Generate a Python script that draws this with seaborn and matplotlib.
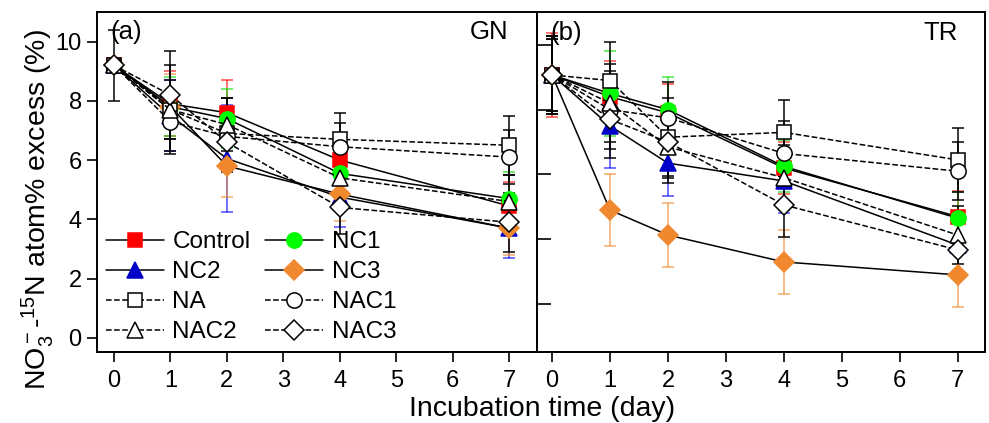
import matplotlib
matplotlib.use("Agg")
import matplotlib.pyplot as plt
import seaborn as sns
import numpy as np

sns.set_theme(style="ticks")
plt.rcParams['font.family'] = ['Liberation Sans', 'DejaVu Sans']
plt.rcParams['mathtext.fontset'] = 'custom'
plt.rcParams['mathtext.rm'] = 'Liberation Sans'
plt.rcParams['mathtext.it'] = 'Liberation Sans:italic'
for k in ['text.color', 'axes.labelcolor', 'xtick.color', 'ytick.color', 'axes.edgecolor']:
    plt.rcParams[k] = 'black'

days = [0, 1, 2, 4, 7]
series = ["Control", "NC1", "NC2", "NC3", "NA", "NAC1", "NAC2", "NAC3"]

# Panel (a) GN
gn_control = [9.2, 7.9, 7.6, 6.0, 4.45]
gn_nc1 = [9.2, 7.8, 7.4, 5.55, 4.7]
gn_nc2 = [9.2, 7.5, 6.05, 4.75, 3.7]
gn_nc3 = [9.2, 7.8, 5.8, 4.85, 3.7]
gn_na = [9.2, 7.7, 6.9, 6.7, 6.5]
gn_nac1 = [9.2, 7.3, 6.8, 6.45, 6.1]
gn_nac2 = [9.2, 7.7, 7.2, 5.4, 4.6]
gn_nac3 = [9.2, 8.2, 6.6, 4.4, 3.9]
gn_err_control = [0.15, 1.1, 1.1, 0.5, 0.8]
gn_err_nc1 = [0.15, 1.0, 1.0, 0.7, 0.9]
gn_err_nc2 = [0.15, 1.2, 1.8, 1.0, 1.0]
gn_err_nc3 = [0.15, 1.1, 1.05, 0.9, 0.9]
gn_err_na = [1.2, 1.5, 1.2, 0.9, 1.0]
gn_err_nac1 = [0.2, 1.0, 1.0, 0.8, 0.9]
gn_err_nac2 = [0.2, 1.0, 0.9, 0.9, 0.9]
gn_err_nac3 = [0.2, 1.5, 1.0, 0.9, 1.0]

# Panel (b) TR
tr_control = [9.07, 8.4, 7.9, 6.2, 4.7]
tr_nc1 = [9.07, 8.5, 8.0, 6.25, 4.65]
tr_nc2 = [9.07, 7.5, 6.35, 5.8, 3.82]
tr_nc3 = [9.07, 4.9, 4.13, 3.3, 2.9]
tr_na = [9.07, 8.9, 7.15, 7.3, 6.45]
tr_nac1 = [9.07, 8.0, 7.75, 6.65, 6.1]
tr_nac2 = [9.07, 8.2, 6.85, 5.9, 4.13]
tr_nac3 = [9.07, 7.7, 7.0, 5.06, 3.67]
tr_err_control = [1.3, 1.1, 0.9, 0.8, 0.8]
tr_err_nc1 = [1.2, 1.3, 1.0, 0.8, 0.8]
tr_err_nc2 = [1.2, 1.3, 1.0, 1.0, 0.9]
tr_err_nc3 = [1.2, 1.1, 1.0, 1.0, 1.0]
tr_err_na = [1.1, 1.2, 1.2, 1.0, 1.0]
tr_err_nac1 = [1.1, 1.2, 1.1, 1.0, 0.9]
tr_err_nac2 = [1.2, 1.2, 1.1, 1.0, 0.9]
tr_err_nac3 = [1.2, 1.2, 1.1, 1.0, 0.9]

gn_vals = [gn_control, gn_nc1, gn_nc2, gn_nc3, gn_na, gn_nac1, gn_nac2, gn_nac3]
gn_errs = [gn_err_control, gn_err_nc1, gn_err_nc2, gn_err_nc3, gn_err_na, gn_err_nac1, gn_err_nac2, gn_err_nac3]
tr_vals = [tr_control, tr_nc1, tr_nc2, tr_nc3, tr_na, tr_nac1, tr_nac2, tr_nac3]
tr_errs = [tr_err_control, tr_err_nc1, tr_err_nc2, tr_err_nc3, tr_err_na, tr_err_nac1, tr_err_nac2, tr_err_nac3]

styles = {
    "Control": dict(marker="s", mfc="#FF0000", mec="#FF0000", ls="-", ecol="#FF0000", ms=10),
    "NC1": dict(marker="o", mfc="#00FF00", mec="#00FF00", ls="-", ecol="#00DD00", ms=11),
    "NC2": dict(marker="^", mfc="#0000C8", mec="#0000C8", ls="-", ecol="#0000FF", ms=11),
    "NC3": dict(marker="D", mfc="#F0882E", mec="#F0882E", ls="-", ecol="#F0882E", ms=10),
    "NA": dict(marker="s", mfc="white", mec="black", ls="--", ecol="black", ms=10),
    "NAC1": dict(marker="o", mfc="white", mec="black", ls="--", ecol="black", ms=11),
    "NAC2": dict(marker="^", mfc="white", mec="black", ls="--", ecol="black", ms=11),
    "NAC3": dict(marker="D", mfc="white", mec="black", ls="--", ecol="black", ms=10),
}

W, H = 989, 423
fig = plt.figure(figsize=(W / 100, H / 100), dpi=100)
ax1 = fig.add_axes([97 / W, (H - 352) / H, 440 / W, 340 / H])
ax2 = fig.add_axes([537 / W, (H - 352) / H, 448 / W, 339.5 / H])

FS = 17

def draw(ax, vals, errs):
    for name, v, e in zip(series, vals, errs):
        st = styles[name]
        alpha = 0.65 if st["ecol"] != "black" else 0.9
        ax.errorbar(days, v, yerr=e, fmt="none", ecolor=st["ecol"], elinewidth=1.2,
                    capsize=4, capthick=1.2, alpha=alpha, zorder=2)
        sns.lineplot(x=days, y=v, ax=ax, color="black", linewidth=1.1,
                     linestyle=st["ls"], marker=st["marker"], markersize=st["ms"],
                     markerfacecolor=st["mfc"], markeredgecolor=st["mec"],
                     markeredgewidth=1.1, label=name, zorder=3,
                     dashes=(4, 3) if st["ls"] == "--" else None)

draw(ax1, gn_vals, gn_errs)
draw(ax2, tr_vals, tr_errs)

for ax in (ax1, ax2):
    ax.set_xticks(range(0, 8))
    ax.tick_params(axis="x", direction="out", length=7, width=1.2, labelsize=FS, pad=6)
    for s in ax.spines.values():
        s.set_linewidth(1.4)
        s.set_color("black")
        s.set_visible(True)
    ax.set_xlabel("")
    ax.set_ylabel("")

ax1.set_xlim(-0.3, 7.49)
ax1.set_ylim(-0.48, 11.0)
ax1.set_yticks([0, 2, 4, 6, 8, 10])
ax1.tick_params(axis="y", direction="out", length=7, width=1.2, labelsize=FS, pad=4)

ax2.set_xlim(-0.26, 7.47)
ax2.set_ylim(0.52, 11.0)
ax2.set_yticks([2, 4, 6, 8, 10])
ax2.tick_params(axis="y", direction="in", length=10, width=1.2, labelleft=False)

AFS = 18.5
ax1.text(0.03, 0.94, "(a)", transform=ax1.transAxes, fontsize=AFS, ha="left", va="center")
ax1.text(0.89, 0.94, "GN", transform=ax1.transAxes, fontsize=AFS, ha="center", va="center")
ax2.text(0.03, 0.94, "(b)", transform=ax2.transAxes, fontsize=AFS, ha="left", va="center")
ax2.text(0.90, 0.94, "TR", transform=ax2.transAxes, fontsize=AFS, ha="center", va="center")

handles, labels = ax1.get_legend_handles_labels()
hmap = dict(zip(labels, handles))
order = ["Control", "NC2", "NA", "NAC2", "NC1", "NC3", "NAC1", "NAC3"]
ax1.legend([hmap[k] for k in order], order, loc="lower left", bbox_to_anchor=(0.0, 0.0),
           ncol=2, frameon=False, fontsize=17.5, handlelength=2.4, handletextpad=0.35,
           labelspacing=0.33, columnspacing=0.6, borderaxespad=0.0, borderpad=0.35)
leg2 = ax2.get_legend()
if leg2 is not None:
    leg2.remove()

LFS = 20.5
fig.text(38 / W, 1 - 209 / H, r"NO$_3^-$-$^{15}$N atom% excess (%)", fontsize=LFS,
         rotation=90, ha="center", va="center")
fig.text(542 / W, 1 - 409 / H, "Incubation time (day)", fontsize=LFS, ha="center", va="center")

fig.savefig("out.png", dpi=100)
